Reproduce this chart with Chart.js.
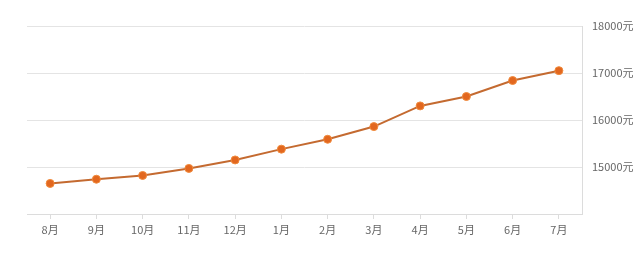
<!DOCTYPE html>
<html><head><meta charset="utf-8">
<script src="https://cdn.jsdelivr.net/npm/chart.js@4/dist/chart.umd.min.js"></script>
<style>html,body{margin:0;padding:0;background:#fff}#wrap{width:640px;height:255px;position:relative}</style>
</head><body><div id="wrap"><canvas id="c" width="640" height="255"></canvas></div>
<script>
const months = ['8月','9月','10月','11月','12月','1月','2月','3月','4月','5月','6月','7月'];
const prices = [14650,14740,14820,14970,15150,15380,15590,15860,16300,16500,16840,17050];
const yMin = 14000, yMax = 18000, yStep = 1000;
const unit = '元';

new Chart(document.getElementById('c'), {
  type: 'line',
  data: {
    labels: months,
    datasets: [{
      data: prices,
      borderColor: '#c46a30',
      borderWidth: 2,
      pointBackgroundColor: '#e2671f',
      pointBorderColor: '#f08a3c',
      pointBorderWidth: 1,
      pointRadius: 4,
      tension: 0,
      fill: false
    }]
  },
  options: {
    responsive: false,
    animation: false,
    layout: { padding: { left: 27, top: 26, right: 0, bottom: 0 } },
    plugins: { legend: { display: false }, tooltip: { enabled: false } },
    scales: {
      x: {
        offset: true,
        grid: { offset: false, drawOnChartArea: false, drawTicks: true, tickLength: 5, color: '#dcdcdc' },
        border: { display: true, color: '#dcdcdc' },
        ticks: { color: '#666', font: { family: 'Noto Sans CJK SC', size: 11 }, padding: 4, maxRotation: 0 },
        afterFit: s => { s.height = 41; }
      },
      y: {
        position: 'right',
        min: yMin, max: yMax,
        grid: { color: '#e4e4e4', drawTicks: false },
        border: { display: true, color: '#dcdcdc' },
        ticks: {
          stepSize: yStep,
          color: '#666',
          font: { family: 'Noto Sans CJK SC', size: 11 },
          padding: 10,
          callback: v => v === yMin ? '' : v + unit
        },
        afterFit: s => { s.width = 58; }
      }
    }
  }
});
</script></body></html>
